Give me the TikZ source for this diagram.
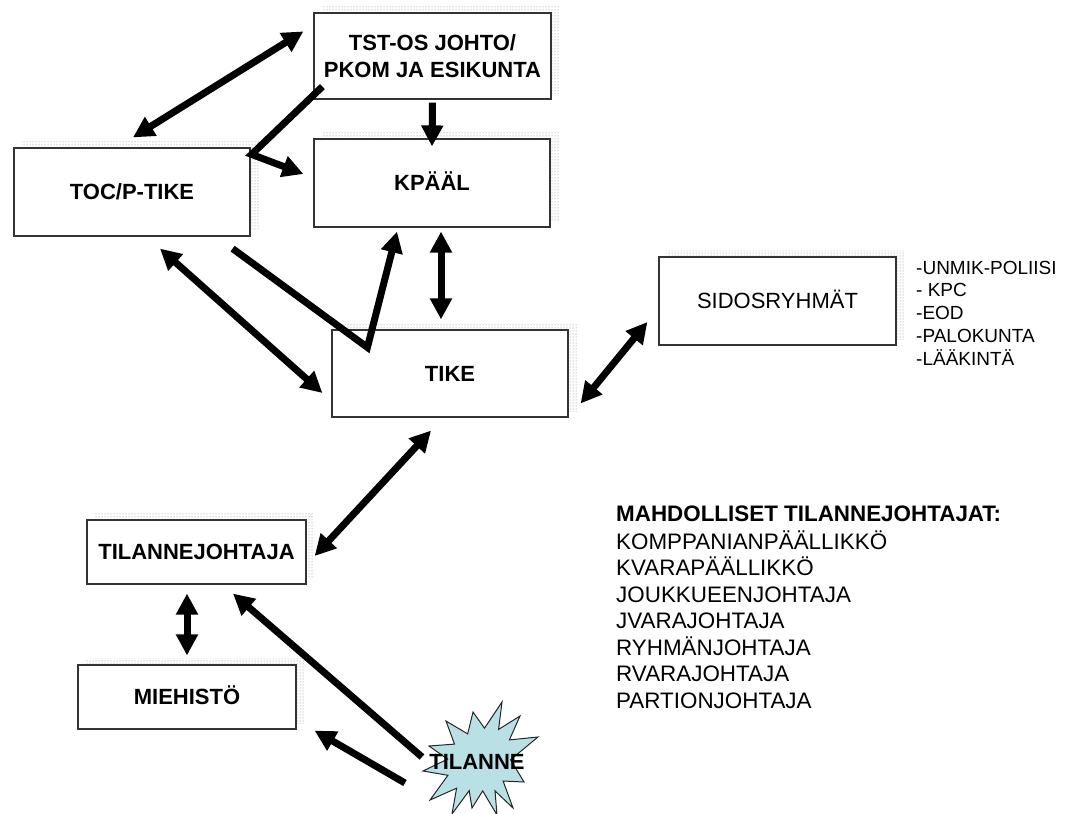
\documentclass[tikz,border=0pt]{standalone}
\usepackage{fontspec}
\setmainfont{Liberation Sans}
\usetikzlibrary{arrows.meta,calc,patterns}
\pgfdeclarelayer{bg}
\pgfsetlayers{bg,main}
\definecolor{starfill}{RGB}{185,224,228}
\tikzset{
  box/.style={draw=black!80, line width=1.2pt, fill=white, inner sep=0pt, align=center},
  bold22/.style={font=\fontsize{22}{27}\selectfont\bfseries},
  reg22/.style={font=\fontsize{22}{27}\selectfont},
  capline/.style={text height=15.75pt, text depth=0pt},
  link/.style={line width=7pt, -{Triangle[length=21pt,width=21pt]}},
  dlink/.style={line width=7pt, {Triangle[length=21pt,width=21pt]}-{Triangle[length=21pt,width=21pt]}},
  shadowfill/.style={pattern=dots, pattern color=black!50},
  listline/.style={anchor=base west, inner sep=0pt, font=\fontsize{22.4}{27}\selectfont},
  sideline/.style={anchor=base west, inner sep=0pt, font=\fontsize{19}{23}\selectfont},
}
\begin{document}
\begin{tikzpicture}[x=1pt,y=-1pt]
\useasboundingbox (0,0) rectangle (1066,814);

% boxes
\node[box,bold22,minimum width=237pt,minimum height=86pt] (tst) at (432.5,56) {TST-OS JOHTO/\\PKOM JA ESIKUNTA};
\node[box,bold22,capline,minimum width=236pt,minimum height=88pt] (toc) at (132,192) {TOC/P-TIKE};
\node[box,bold22,capline,minimum width=236pt,minimum height=88pt] (kpaal) at (432,183) {KPÄÄL};
\node[box,bold22,capline,minimum width=236pt,minimum height=87pt] (tike) at (450,373.5) {TIKE};
\node[box,reg22,capline,minimum width=237pt,minimum height=88pt] (sidos) at (777.5,301) {SIDOSRYHMÄT};
\node[box,bold22,capline,minimum width=219pt,minimum height=64pt] (tilj) at (196.5,552) {TILANNEJOHTAJA};
\node[box,bold22,capline,minimum width=218pt,minimum height=64pt] (mieh) at (187,697) {MIEHISTÖ};

% dotted drop shadows behind the boxes
\begin{pgfonlayer}{bg}
\foreach \b in {tst,toc,kpaal,tike,sidos,tilj,mieh}{
  \fill[shadowfill] ($(\b.south west)+(8,-6)$) rectangle ($(\b.north east)+(8,-6)$);
}
\end{pgfonlayer}

% stakeholder list
\node[sideline] (s1) at (916,274) {-UNMIK-POLIISI};
\node[sideline] (s2) at (916,296.8) {- KPC};
\node[sideline] (s3) at (916,319.6) {-EOD};
\node[sideline] (s4) at (916,342.4) {-PALOKUNTA};
\node[sideline] (s5) at (916,365.2) {-LÄÄKINTÄ};

% possible incident commanders
\node[listline,font=\fontsize{22.4}{27}\selectfont\bfseries] (m0) at (616,521.5) {MAHDOLLISET TILANNEJOHTAJAT:};
\node[listline] (m1) at (616,549) {KOMPPANIANPÄÄLLIKKÖ};
\node[listline] (m2) at (616,575.5) {KVARAPÄÄLLIKKÖ};
\node[listline] (m3) at (616,602) {JOUKKUEENJOHTAJA};
\node[listline] (m4) at (616,628.5) {JVARAJOHTAJA};
\node[listline] (m5) at (616,655) {RYHMÄNJOHTAJA};
\node[listline] (m6) at (616,681.5) {RVARAJOHTAJA};
\node[listline] (m7) at (616,708) {PARTIONJOHTAJA};

% incident burst
\draw[fill=starfill, draw=black!85, line width=1pt, line join=miter]
  (502,702) -- (498.6,729.4) -- (520,716) -- (509.4,739.9) -- (538,737)
  -- (510.6,759.7) -- (524,782) -- (503.1,781) -- (513,808) -- (495,790.9)
  -- (497,815) -- (482.7,790.9) -- (472,808) -- (469.2,790.6) -- (452,814)
  -- (456.6,788.2) -- (430,800) -- (447.9,775.3) -- (423,771) -- (447.6,759.1)
  -- (429,746) -- (454.5,744.1) -- (446,721) -- (467.7,733.9) -- (473,712)
  -- (484.5,728.2) -- cycle;
\node[bold22,capline,inner sep=0pt] (tilanne) at (477,762) {TILANNE};

% connectors
\draw[dlink] ($(toc.north)+(1,-10)$) -- ($(tst.north west)+(-10,19)$);
\draw[link] ($(tst.south west)+(9,-13)$) -- ($(toc.north east)+(1,7)$) -- ($(kpaal.west)+(-10,-9)$);
\draw[link] ($(tst.south)+(0,3)$) -- ($(kpaal.north)+(0,8)$);
\draw[dlink] ($(kpaal.south)+(9,4)$) -- ($(tike.north)+(-9,-10)$);
\draw[link] ($(toc.south east)+(-18,12)$) -- ($(tike.north west)+(36,18)$) -- ($(kpaal.south)+(-35,4)$);
\draw[dlink] ($(toc.south)+(28,12)$) -- ($(tike.west)+(-9,19.5)$);
\draw[dlink] ($(tike.east)+(12,30)$) -- ($(sidos.west)+(-11,21)$);
\draw[dlink] ($(tike.south)+(-19,13)$) -- ($(tilj.east)+(8,4)$);
\draw[dlink] ($(tilj.south)+(-9.5,9)$) -- ($(mieh.north)+(0,-9)$);
\draw[link] ($(tilanne.center)+(-55,-5)$) -- ($(tilj.south)+(36.5,9)$);
\draw[link] ($(tilanne.center)+(-72,21)$) -- ($(mieh.south east)+(18,1)$);
\end{tikzpicture}
\end{document}
